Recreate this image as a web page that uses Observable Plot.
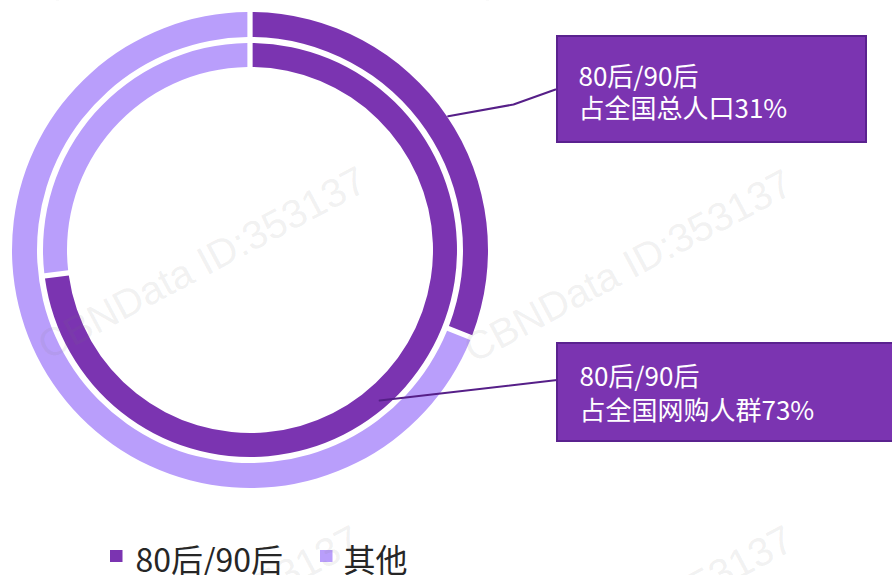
<!DOCTYPE html>
<html>
<head>
<meta charset="utf-8">
<script src="https://cdn.jsdelivr.net/npm/d3@7"></script>
<script src="https://cdn.jsdelivr.net/npm/@observablehq/plot@0.6"></script>
<style>
  html, body { margin: 0; padding: 0; background: #fff; overflow: hidden; }
  #chart svg { display: block; }
</style>
</head>
<body>
<div id="chart"></div>
<script>
// ---------------- data ----------------
const categories = ["80后/90后", "其他"];
const colors = ["#7B34B1", "#B99EFB"];
const outerValues = [31, 69];   // 占全国总人口
const innerValues = [73, 27];   // 占全国网购人群
const outerLabel = ["80后/90后", "占全国总人口31%"];
const innerLabel = ["80后/90后", "占全国网购人群73%"];
const watermarkText = "CBNData ID:353137";

// ---------------- layout (donut-centred units) ----------------
const rings = [
  {key: "outer", values: outerValues, r0: 213, r1: 238},
  {key: "inner", values: innerValues, r0: 183, r1: 207}
];
const labelBoxes = [
  {lines: outerLabel, ring: 0, anchorFrac: 0.5, anchorR: 239, elbow: [263, -146], end: [305, -161],
   x1: 307, x2: 616, y1: -214, y2: -108, tx: 328, ty: [-165, -133]},
  {lines: innerLabel, ring: 1, anchorFrac: 0.53, anchorR: 198, elbow: [311, 129], end: [323, 134],
   x1: 307, x2: 660, y1: 93, y2: 191, tx: 329, ty: [135, 169]}
];
const legendItems = [
  {x: -140, tx: -115},
  {x: 70, tx: 93}
];
const legendY = [300, 312], legendBaseline = 321;
const watermarkAnchors = [
  [-200, -245], [230, -245],
  [-203, 110], [223, 113],
  [-209, 469], [224, 469]
];

// ---------------- derived ----------------
const color = d3.scaleOrdinal(categories, colors);
const pies = rings.map(r => d3.pie().sort(null).value(d => d.value)(
  categories.map((c, i) => ({name: c, value: r.values[i]}))
));

function anchorPoint(b) {
  const slice = pies[b.ring][0];
  const a = slice.startAngle + (slice.endAngle - slice.startAngle) * b.anchorFrac;
  return [b.anchorR * Math.sin(a), -b.anchorR * Math.cos(a)];
}
const leaders = labelBoxes.flatMap((b, i) => [anchorPoint(b), b.elbow, b.end].map(p => ({id: i, x: p[0], y: p[1]})));
const boxTexts = labelBoxes.flatMap(b => b.lines.map((t, j) => ({text: t, x: b.tx, y: b.ty[j]})));
const legendData = categories.map((c, i) => ({name: c, ...legendItems[i]}));

function donut(index, scales) {
  const cx = scales.x(0), cy = scales.y(0);
  const k = Math.abs(scales.x(1) - scales.x(0));
  const g = d3.create("svg:g").attr("transform", `translate(${cx},${cy})`);
  rings.forEach((r, ri) => {
    const arc = d3.arc().innerRadius(r.r0 * k).outerRadius(r.r1 * k)
      .padAngle(0.021).padRadius(250 * k);
    g.append("g").selectAll("path").data(pies[ri]).join("path")
      .attr("d", arc).attr("fill", d => color(d.data.name));
  });
  return g.node();
}

const chart = Plot.plot({
  width: 892,
  height: 575,
  margin: 0,
  style: {background: "#fff", overflow: "visible"},
  x: {domain: [-250, 642], range: [0, 892], axis: null},
  y: {domain: [-250, 325], range: [0, 575], axis: null},
  marks: [
    donut,
    Plot.line(leaders, {x: "x", y: "y", z: "id", stroke: "#561F88", strokeWidth: 2}),
    Plot.rect(labelBoxes, {x1: "x1", x2: "x2", y1: "y1", y2: "y2", fill: colors[0], stroke: "#5A228F", strokeWidth: 2}),
    Plot.text(boxTexts, {x: "x", y: "y", text: "text", fill: "#fff", fontSize: 26,
      fontFamily: "'Noto Sans CJK SC', 'Noto Sans', sans-serif", textAnchor: "start", lineAnchor: "bottom"}),
    Plot.rect(legendData, {x1: "x", x2: d => d.x + 12.5, y1: () => legendY[0], y2: () => legendY[1], fill: d => color(d.name)}),
    Plot.text(legendData, {x: "tx", y: () => legendBaseline, text: "name", fill: "#262626", fontSize: 32,
      fontFamily: "'Noto Sans CJK SC', 'Noto Sans', sans-serif", textAnchor: "start", lineAnchor: "bottom"}),
    Plot.text(watermarkAnchors, {x: d => d[0], y: d => d[1], text: () => watermarkText, rotate: -28,
      fontSize: 40, fontFamily: "'Liberation Sans', Arial, sans-serif", fill: "#7a7a7a", fillOpacity: 0.11,
      textAnchor: "start", lineAnchor: "bottom"})
  ]
});
document.getElementById("chart").appendChild(chart);
</script>
</body>
</html>
